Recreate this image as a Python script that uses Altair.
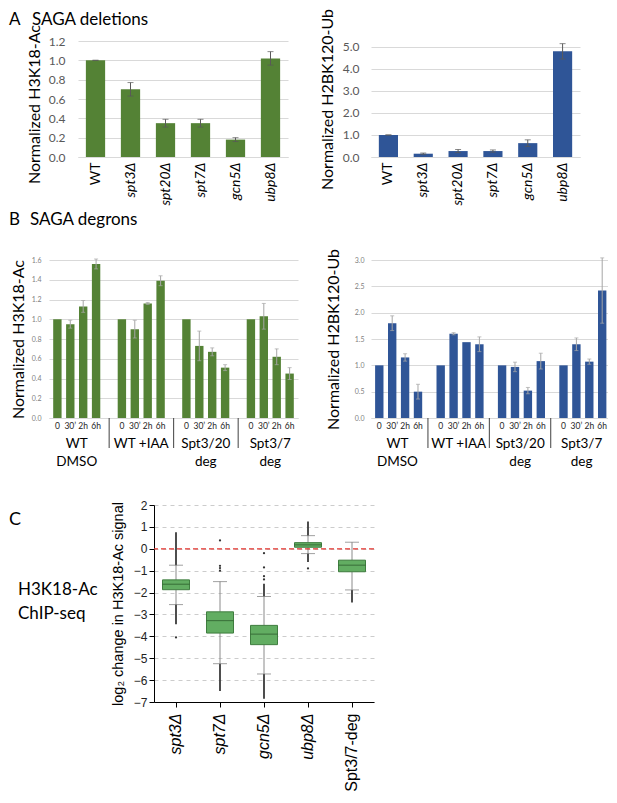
import altair as alt
import pandas as pd

FONT = "Lato"
GREEN = "#548235"
BLUE = "#2F5597"
GRID = "#d9d9d9"

# ---------- Panel A data ----------
deletions = ["WT", "spt3Δ", "spt20Δ", "spt7Δ", "gcn5Δ", "ubp8Δ"]
h3k18_del = [1.00, 0.70, 0.35, 0.35, 0.18, 1.02]
h3k18_del_err = [0.00, 0.07, 0.04, 0.04, 0.02, 0.07]
h2b_del = [1.00, 0.15, 0.27, 0.27, 0.63, 4.80]
h2b_del_err = [0.00, 0.03, 0.07, 0.05, 0.15, 0.35]

# ---------- Panel B data ----------
groups = ["WT\nDMSO", "WT +IAA", "Spt3/20\ndeg", "Spt3/7\ndeg"]
times = ["0", "30’", "2h", "6h"]
h3k18_deg = [[1.00, 0.95, 1.13, 1.56], [1.00, 0.90, 1.16, 1.39],
             [1.00, 0.73, 0.67, 0.51], [1.00, 1.03, 0.62, 0.45]]
h3k18_deg_err = [[0.0, 0.04, 0.06, 0.05], [0.0, 0.09, 0.01, 0.05],
                 [0.0, 0.15, 0.04, 0.03], [0.0, 0.13, 0.08, 0.06]]
h2b_deg = [[1.00, 1.80, 1.15, 0.50], [1.00, 1.60, 1.44, 1.40],
           [1.00, 0.97, 0.52, 1.08], [1.00, 1.40, 1.07, 2.42]]
h2b_deg_err = [[0.0, 0.14, 0.07, 0.14], [0.0, 0.02, 0.0, 0.14],
               [0.0, 0.09, 0.06, 0.15], [0.0, 0.12, 0.05, 0.62]]

# ---------- Panel C data ----------
samples = ["spt3Δ", "spt7Δ", "gcn5Δ", "ubp8Δ", "Spt3/7-deg"]
box_q1 = [-1.87, -3.85, -4.38, 0.07, -1.05]
box_med = [-1.62, -3.28, -3.90, 0.18, -0.75]
box_q3 = [-1.42, -2.88, -3.50, 0.28, -0.52]
whisk_lo = [-2.55, -5.25, -5.72, -0.22, -1.88]
whisk_hi = [-0.75, -1.50, -2.18, 0.60, 0.30]
run_sample = ["spt3Δ", "spt3Δ", "spt7Δ", "gcn5Δ", "gcn5Δ", "ubp8Δ", "ubp8Δ", "Spt3/7-deg"]
run_from = [-0.75, -2.55, -5.25, -2.18, -5.72, 0.60, -0.22, -1.88]
run_to = [0.75, -3.45, -6.50, -1.60, -6.85, 1.25, -0.60, -2.45]
pt_sample = ["spt3Δ", "spt7Δ", "spt7Δ", "spt7Δ", "spt7Δ", "gcn5Δ", "gcn5Δ", "gcn5Δ", "gcn5Δ", "ubp8Δ"]
pt_value = [-4.05, 0.38, -0.78, -0.88, -1.00, -0.20, -0.85, -1.25, -1.40, -0.90]

YTICKS_A1 = [0.0, 0.2, 0.4, 0.6, 0.8, 1.0, 1.2]
YTICKS_A2 = [0.0, 1.0, 2.0, 3.0, 4.0, 5.0]
YTICKS_B1 = [0.0, 0.2, 0.4, 0.6, 0.8, 1.0, 1.2, 1.4, 1.6]
YTICKS_B2 = [0.0, 0.5, 1.0, 1.5, 2.0, 2.5, 3.0]
YTICKS_C = [-7, -6, -5, -4, -3, -2, -1, 0, 1, 2]


def label(text, x, y, size, font=FONT, style="normal"):
    return alt.Chart(pd.DataFrame({"t": [text]})).mark_text(
        font=font, fontSize=size, align="left", baseline="top", color="black",
        fontStyle=style
    ).encode(x=alt.value(x), y=alt.value(y), text="t:N")


def spacer():
    return alt.Chart(pd.DataFrame({"s": [0]})).mark_rule(opacity=0, strokeWidth=0.1).encode(
        x=alt.value(0), y=alt.value(0), y2=alt.value(1)).properties(width=1, height=1)


def top_pad(y):
    return alt.Chart(pd.DataFrame({"s": [0]})).mark_rule(opacity=0, strokeWidth=0.1).encode(
        x=alt.value(0), y=alt.value(y), y2=alt.value(y + 1))


def panel_a(values, errs, color, ymax, ticks, title, w, h, title_y, lpad, tpad):
    df = pd.DataFrame({"sample": deletions, "v": values, "e": errs})
    df["lo"] = df["v"] - df["e"]
    df["hi"] = df["v"] + df["e"]
    x = alt.X("sample:N", sort=deletions,
              scale=alt.Scale(paddingInner=0.45, paddingOuter=0.225),
              axis=alt.Axis(title=None, labelAngle=-90, labelFont=FONT, labelFontSize=14,
                            labelColor="black", ticks=False, domainColor=GRID, labelPadding=5,
                            labelOverlap=False,
                            labelFontStyle={"condition": {"test": "datum.value == 'WT'", "value": "normal"},
                                            "value": "italic"}))
    y = alt.Y("v:Q", scale=alt.Scale(domain=[0, ymax], nice=False),
              axis=alt.Axis(values=ticks, tickCount=len(ticks), format=".1f", title=title,
                            titleFont=FONT, titleFontSize=16, titleFontWeight="normal",
                            titleColor="black", labelFont=FONT, labelFontSize=12,
                            labelColor="#595959", ticks=False, domain=False, gridColor=GRID,
                            labelPadding=lpad, titlePadding=tpad, titleY=title_y,
                            labelOverlap=False))
    base = alt.Chart(df)
    bars = base.mark_bar(color=color).encode(x=x, y=y)
    err = base.mark_rule(color="#595959").encode(x=x, y="lo:Q", y2="hi:Q")
    cap1 = base.mark_tick(color="#595959", size=6, thickness=1).encode(x=x, y="hi:Q")
    cap2 = base.mark_tick(color="#595959", size=6, thickness=1).encode(x=x, y="lo:Q")
    return alt.layer(bars, err, cap1, cap2).properties(width=w, height=h)


def panel_b(values, errs, color, ymax, ticks, title, w, h, lpad, tpad):
    rows = []
    for gi, g in enumerate(groups):
        for ti, t in enumerate(times):
            rows.append({"group": g, "time": t, "v": values[gi][ti], "e": errs[gi][ti]})
    df = pd.DataFrame(rows)
    df["lo"] = df["v"] - df["e"]
    df["hi"] = df["v"] + df["e"]
    x = alt.X("group:N", sort=groups,
              scale=alt.Scale(paddingInner=0.2, paddingOuter=0.03),
              axis=alt.Axis(title=None, labelAngle=0, labelExpr="split(datum.value, '\\n')",
                            labelFont=FONT, labelFontSize=13.5, labelColor="black",
                            labelPadding=18, labelLineHeight=18, ticks=False, domainColor=GRID,
                            labelOverlap=False))
    xo = alt.XOffset("time:N", sort=times,
                     scale=alt.Scale(paddingInner=0.35, paddingOuter=0.175))
    y = alt.Y("v:Q", scale=alt.Scale(domain=[0, ymax], nice=False),
              axis=alt.Axis(values=ticks, tickCount=len(ticks), format=".1f", title=title,
                            titleFont=FONT, titleFontSize=16, titleFontWeight="normal",
                            titleColor="black", labelFont=FONT, labelFontSize=7,
                            labelColor="#7f7f7f", ticks=False, domain=False, gridColor=GRID,
                            labelPadding=lpad, titlePadding=tpad, labelOverlap=False))
    base = alt.Chart(df)
    bars = base.mark_bar(color=color).encode(x=x, xOffset=xo, y=y)
    eb = base.transform_filter("datum.e > 0")
    err = eb.mark_rule(color="#a6a6a6").encode(x=x, xOffset=xo, y="lo:Q", y2="hi:Q")
    cap1 = eb.mark_tick(color="#a6a6a6", size=4, thickness=1).encode(x=x, xOffset=xo, y="hi:Q")
    cap2 = eb.mark_tick(color="#a6a6a6", size=4, thickness=1).encode(x=x, xOffset=xo, y="lo:Q")
    tlab = base.mark_text(font=FONT, fontSize=8.5, baseline="top", color="#262626").encode(
        x=x, xOffset=xo, y=alt.value(h + 4), text="time:N")
    seps = alt.Chart(pd.DataFrame({"group": groups[1:]})).mark_rule(
        color="#404040", xOffset=-6.3).encode(
        x=alt.X("group:N", sort=groups, bandPosition=0), y=alt.value(h), y2=alt.value(h + 30))
    return alt.layer(bars, err, cap1, cap2, tlab, seps).properties(width=w, height=h)


# ---------- Row A ----------
a_left = alt.layer(
    panel_a(h3k18_del, h3k18_del_err, GREEN, 1.2, YTICKS_A1, "Normalized H3K18-Ac",
            210, 116, 63, 13, 6),
    top_pad(-33),
    label("A", -69, -29, 17),
    label("SAGA deletions", -46, -29, 17),
)
a_right = panel_a(h2b_del, h2b_del_err, BLUE, 5.27, YTICKS_A2, "Normalized H2BK120-Ub",
                  209, 116, 58, 12, 7)
row_a = alt.hconcat(spacer(), alt.hconcat(a_left, a_right, spacing=31), spacing=0)

# ---------- Row B ----------
b_left = alt.layer(
    panel_b(h3k18_deg, h3k18_deg_err, GREEN, 1.6, YTICKS_B1, "Normalized H3K18-Ac",
            249, 158, 8, 5),
    label("B", -40, -48, 17),
    label("SAGA degrons", -19, -48, 17),
)
b_right = panel_b(h2b_deg, h2b_deg_err, BLUE, 3.0, YTICKS_B2, "Normalized H2BK120-Ub",
                  237, 158, 7, 13)
row_b = alt.hconcat(spacer(), alt.hconcat(b_left, b_right, spacing=27), spacing=0)

# ---------- Row C ----------
dfc = pd.DataFrame({"sample": samples, "q1": box_q1, "med": box_med, "q3": box_q3,
                    "wlo": whisk_lo, "whi": whisk_hi})
dfr = pd.DataFrame({"sample": run_sample, "a": run_from, "b": run_to})
dfp = pd.DataFrame({"sample": pt_sample, "v": pt_value})
xc = alt.X("sample:N", sort=samples, scale=alt.Scale(paddingInner=0, paddingOuter=0),
           axis=alt.Axis(title=None, labelAngle=-90, labelFont="Liberation Sans",
                         labelFontSize=16, labelColor="black", tickColor="black", tickSize=5,
                         domainColor="black", labelPadding=6, labelOverlap=False,
                         labelFontStyle={"condition": {"test": "datum.value == 'Spt3/7-deg'",
                                                       "value": "normal"}, "value": "italic"}))
yc = alt.Y("q1:Q", scale=alt.Scale(domain=[-7, 2], nice=False),
           axis=alt.Axis(values=YTICKS_C, tickCount=len(YTICKS_C),
                         title="log₂ change in H3K18-Ac signal",
                         titleFont="Liberation Sans", titleFontSize=14.5, titleFontWeight="normal",
                         titleColor="black", labelFont="Liberation Sans", labelFontSize=12,
                         labelColor="#222222", tickColor="black", tickSize=5, domainColor="black",
                         gridDash=[4, 4], gridColor="#cccccc", labelPadding=2, titlePadding=8,
                         labelOverlap=False))
cb = alt.Chart(dfc)
whis_lo = cb.mark_rule(color="#8a8a8a").encode(x=xc, y=yc, y2="wlo:Q")
whis_hi = cb.mark_rule(color="#8a8a8a").encode(x=xc, y="q3:Q", y2="whi:Q")
runs = alt.Chart(dfr).mark_rule(color="#3a3a3a", strokeWidth=1.8).encode(x=xc, y="a:Q", y2="b:Q")
pts = alt.Chart(dfp).mark_circle(color="#333333", size=5, opacity=1).encode(x=xc, y="v:Q")
caps_lo = cb.mark_tick(color="#777777", size=14, thickness=1).encode(x=xc, y="wlo:Q")
caps_hi = cb.mark_tick(color="#777777", size=14, thickness=1).encode(x=xc, y="whi:Q")
boxes = cb.mark_bar(size=27, color="#62ad62", stroke="#3f7d3f", strokeWidth=1).encode(
    x=xc, y="q1:Q", y2="q3:Q")
meds = cb.mark_tick(color="#2f5f2f", size=27, thickness=1.2).encode(x=xc, y="med:Q")
zero = alt.Chart(pd.DataFrame({"z": [0]})).mark_rule(
    color="#e3342f", strokeDash=[5, 3], strokeWidth=1.2).encode(y="z:Q")
c_plot = alt.layer(
    whis_lo, whis_hi, runs, pts, caps_lo, caps_hi, boxes, meds, zero,
    label("C", -145, 6, 18),
    label("H3K18-Ac", -136, 77, 17),
    label("ChIP-seq", -136, 101, 17),
).properties(width=220, height=197)
row_c = alt.hconcat(spacer(), c_plot, spacing=0)

lower = alt.vconcat(row_b, row_c, spacing=31)
chart = alt.vconcat(row_a, lower, spacing=5).properties(
    padding=0).configure_view(stroke=None)

chart.save("out.html", embed_options={"renderer": "svg", "actions": False})
